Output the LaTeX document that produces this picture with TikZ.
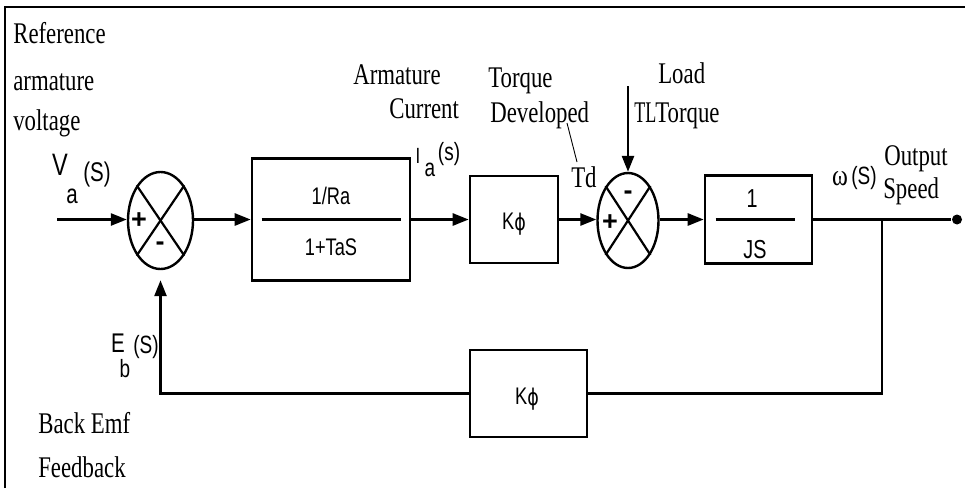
\documentclass[tikz,border=0pt]{standalone}
\usepackage{fontspec}
\setmainfont{Liberation Serif}
\newfontfamily\sff{Liberation Sans}
\newfontfamily\dvs{DejaVu Sans}
\usetikzlibrary{shapes.geometric,arrows.meta}
\newcommand{\srf}[1]{\scalebox{0.76}[1]{\fontsize{30}{32}\selectfont #1}}
\newcommand{\ssf}[2][24]{\scalebox{0.76}[1]{\sff\fontsize{#1}{#1}\selectfont #2}}
\newcommand{\kphi}{\scalebox{0.76}[1]{\sff\fontsize{24}{24}\selectfont K\raisebox{-1pt}{\dvs\fontsize{23}{23}\selectfont ϕ}}}
\begin{document}
\begin{tikzpicture}[x=1pt,y=-1pt,
  line width=2.6pt,
  blk/.style={draw, line width=2.6pt, inner sep=0, rectangle},
  sumj/.style={draw, ellipse, line width=2.4pt, inner sep=0},
  arr/.style={-{Triangle[length=16pt,width=12pt]}},
  txt/.style={inner sep=0, anchor=base west},
  ctxt/.style={inner sep=0, anchor=base},
  sgn/.style={inner sep=0, font=\sff\bfseries\fontsize{27}{27}\selectfont},
  thinl/.style={line width=0.9pt}]
\useasboundingbox (0,0) rectangle (965,488);
% frame (top and left only)
\coordinate (fbl) at (5,488);
\coordinate (ftl) at (5,7);
\coordinate (ftr) at (965,7);
\draw[line width=2pt] (fbl) -- (ftl) -- (ftr);

% blocks
\node[sumj, minimum width=65pt, minimum height=97pt] (s1) at (160.5,220.5) {};
\node[blk, minimum width=158pt, minimum height=122pt] (box1) at (331,219.5) {};
\node[blk, minimum width=88pt, minimum height=87pt] (kf1) at (514,219.5) {};
\node[sumj, minimum width=61pt, minimum height=95pt] (s2) at (628,220.5) {};
\node[blk, minimum width=107pt, minimum height=88pt] (js) at (758.5,219.5) {};
\node[blk, minimum width=117pt, minimum height=87pt] (kf2) at (528.5,393.5) {};
\node[circle, fill, inner sep=0, minimum size=10pt] (out) at (957,219.5) {};

% crosses in summing junctions
\draw[line width=2.2pt] (s1.north west) -- (s1.south east);
\draw[line width=2.2pt] (s1.north east) -- (s1.south west);
\draw[line width=2.2pt] (s2.north west) -- (s2.south east);
\draw[line width=2.2pt] (s2.north east) -- (s2.south west);

% fraction bars
\draw ([xshift=11pt]box1.west) -- ([xshift=-10pt]box1.east);
\draw ([xshift=12pt]js.west) -- ([xshift=-18pt]js.east);

% connectors
\coordinate (vin) at (57,219.5);
\coordinate (tlin) at (628,86);
\coordinate (br) at (882,219.5);
\draw[arr] (vin) -- (vin -| s1.west);
\draw[arr] (s1.east |- box1.west) -- (box1.west);
\draw[arr] (box1.east) -- (kf1.west);
\draw[arr] (kf1.east) -- (s2.west |- kf1.east);
\draw[arr] (s2.east |- js.west) -- (js.west);
\draw (js.east) -- (out);
\draw (br) |- (kf2.east);
\draw[arr, shorten >=10pt] (kf2.west) -| (s1.south);
\draw[arr] (tlin) -- (s2.north);

% Td leader
\coordinate (tda) at (567,123);
\coordinate (tdb) at (577,162);
\draw[thinl] (tda) -- (tdb);

% block texts
\node[ctxt] (t1ra) at (331,204) {\ssf{1/Ra}};
\node[ctxt] (t1tas) at (331,255) {\ssf{1+TaS}};
\node[ctxt] (tkf1) at (514,229) {\kphi};
\node[ctxt] (tkf2) at (527,404) {\kphi};
\node[ctxt] (tone) at (752,207) {\ssf[26]{1}};
\node[ctxt] (tjs) at (755,258) {\ssf[26]{JS}};

% signs
\node[sgn] (p1) at (139,221) {+};
\node[sgn] (m1) at (160,246) {-};
\node[sgn] (m2) at (628,195) {-};
\node[sgn] (p2) at (610,223) {+};

% signal labels
\node[ctxt] (lv) at (60,175) {\ssf[31]{V}};
\node[ctxt] (lva) at (72,203) {\ssf[27]{a}};
\node[ctxt] (lvs) at (97,181) {\ssf[27]{(S)}};
\node[ctxt] (le) at (118,352) {\ssf[27]{E}};
\node[ctxt] (leb) at (125,377) {\ssf[25]{b}};
\node[ctxt] (les) at (146,353) {\ssf[25]{(S)}};
\node[ctxt] (li) at (418,163) {\ssf[22]{I}};
\node[ctxt] (lia) at (430,176) {\ssf[25]{a}};
\node[ctxt] (lis) at (449,160) {\ssf[25]{(s)}};
\node[ctxt] (lw) at (840,185) {\scalebox{0.8}[1]{\fontsize{30}{30}\selectfont ω}};
\node[ctxt] (lws) at (864,184) {\ssf[25]{(S)}};

% descriptive texts
\node[txt] (r1) at (12,43) {\srf{Reference}};
\node[txt] (r2) at (12,90) {\srf{armature}};
\node[txt] (r3) at (12,130) {\srf{voltage}};
\node[txt] (b1) at (37,433) {\srf{Back Emf}};
\node[txt] (b2) at (37,477) {\srf{Feedback}};
\node[txt] (a1) at (352,84) {\srf{Armature}};
\node[txt] (a2) at (388,118) {\srf{Current}};
\node[txt] (d1) at (487,87) {\srf{Torque}};
\node[txt] (d2) at (489,122) {\srf{Developed}};
\node[txt] (td) at (570,187) {\srf{Td}};
\node[txt] (ld1) at (657,83) {\srf{Load}};
\node[txt] (ld0) at (633,122) {\scalebox{0.6}[1]{\fontsize{30}{32}\selectfont TL}};
\node[txt] (ld2) at (654,122) {\srf{Torque}};
\node[txt] (o1) at (883,165) {\srf{Output}};
\node[txt] (o2) at (882,198) {\srf{Speed}};
\end{tikzpicture}
\end{document}
